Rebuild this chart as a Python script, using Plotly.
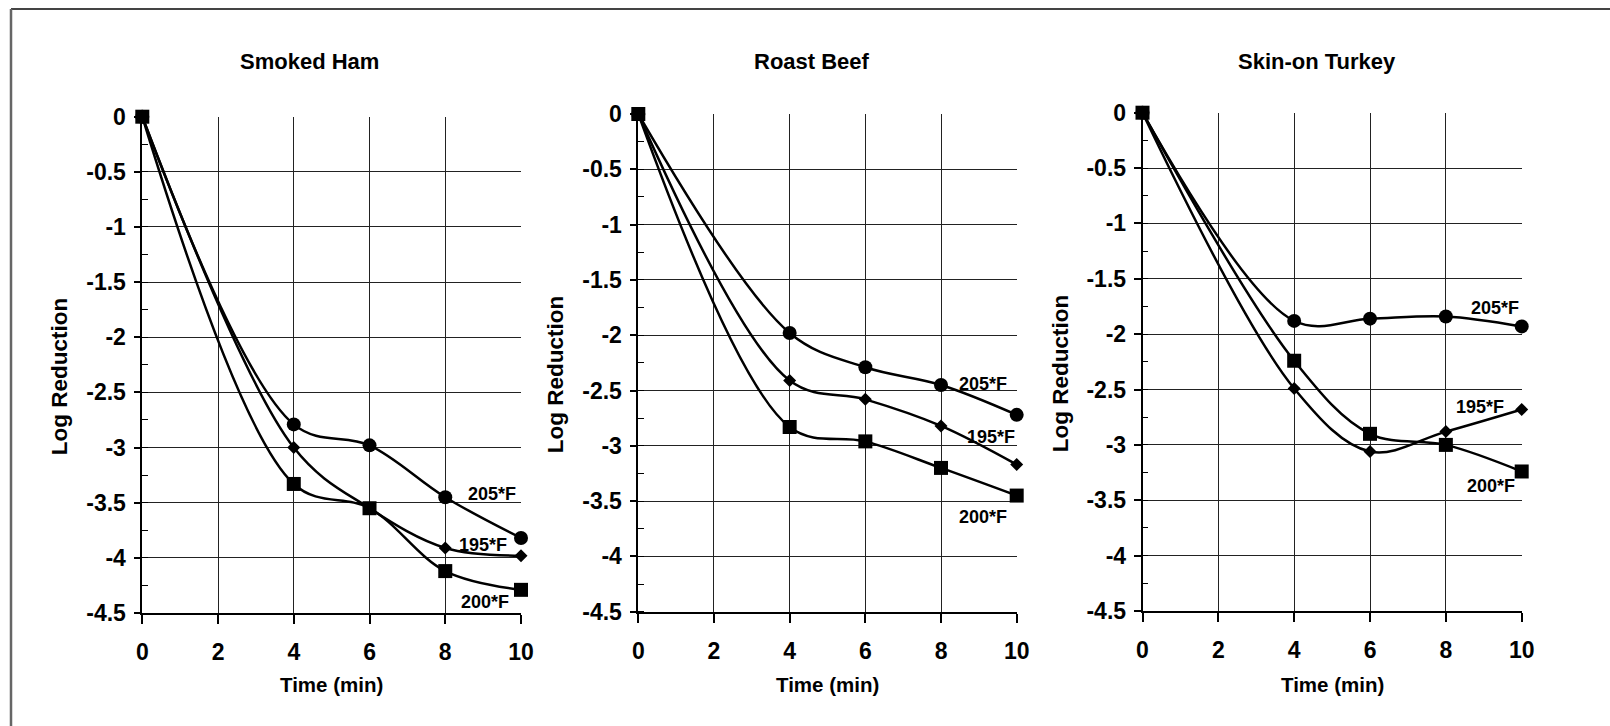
import plotly.graph_objects as go

# Sampling times (min)
time_min = [0, 4, 6, 8, 10]

# Log reduction per product and oven temperature
ham_205 = [0, -2.79, -2.98, -3.45, -3.82]
ham_195 = [0, -3.00, -3.55, -3.91, -3.98]
ham_200 = [0, -3.33, -3.55, -4.12, -4.29]

beef_205 = [0, -1.98, -2.29, -2.45, -2.72]
beef_195 = [0, -2.41, -2.58, -2.82, -3.17]
beef_200 = [0, -2.83, -2.96, -3.20, -3.45]

turkey_205 = [0, -1.88, -1.86, -1.84, -1.93]
turkey_195 = [0, -2.49, -3.06, -2.88, -2.68]
turkey_200 = [0, -2.24, -2.90, -3.00, -3.24]

panel_titles = ["Smoked Ham", "Roast Beef", "Skin-on Turkey"]
series_names = ["205*F", "195*F", "200*F"]

x_tick_vals = [0, 2, 4, 6, 8, 10]
x_tick_text = ["0", "2", "4", "6", "8", "10"]
y_tick_vals = [0, -0.5, -1, -1.5, -2, -2.5, -3, -3.5, -4, -4.5]
y_tick_text = ["0", "-0.5", "-1", "-1.5", "-2", "-2.5", "-3", "-3.5", "-4", "-4.5"]

panels = [
    [ham_205, ham_195, ham_200],
    [beef_205, beef_195, beef_200],
    [turkey_205, turkey_195, turkey_200],
]

# in-plot series label anchors (data coords) for each panel: 205, 195, 200
label_xy = [
    [(9.23, -3.42), (9.0, -3.88), (9.04, -4.40)],
    [(9.1, -2.44), (9.32, -2.92), (9.12, -3.64)],
    [(9.29, -1.76), (8.9, -2.66), (9.19, -3.37)],
]

W, H = 1610, 726


def px(xp):
    return xp / W


def py(yp):
    return 1 - yp / H


# plot areas in pixels: (left, right, top, bottom)
boxes = [
    (142.3, 521.0, 116.7, 613.0),
    (638.3, 1016.7, 114.0, 611.7),
    (1142.5, 1521.7, 112.7, 611.0),
]
title_x = [309, 812, 1317]

FONT = "Arial, 'Liberation Sans', sans-serif"
markers = [
    dict(symbol="circle", size=14),
    dict(symbol="diamond", size=10),
    dict(symbol="square", size=14),
]

fig = go.Figure()
annotations = []

for i, (series, box) in enumerate(zip(panels, boxes)):
    sfx = "" if i == 0 else str(i + 1)
    xa, ya = "x" + sfx, "y" + sfx
    for j, ys in enumerate(series):
        fig.add_trace(go.Scatter(
            x=time_min, y=ys, xaxis=xa, yaxis=ya,
            mode="lines+markers", name=series_names[j],
            line=dict(color="black", width=2.5, shape="spline", smoothing=1.0),
            marker=dict(color="black", **markers[j]),
            cliponaxis=False, showlegend=False,
        ))
        lx, ly = label_xy[i][j]
        annotations.append(dict(
            x=lx, y=ly, xref=xa, yref=ya, text=series_names[j],
            xanchor="center", yanchor="middle", showarrow=False,
            font=dict(family=FONT, size=18, color="black", weight="bold"),
        ))

    l, r, t, b = box
    axis_common = dict(
        automargin=False,
        showgrid=True, gridcolor="#222", gridwidth=1.4,
        showline=True, linecolor="black", linewidth=1.6,
        zeroline=False, mirror=False,
        tickfont=dict(family=FONT, size=23, color="black", weight="bold"),
        ticks="outside", tickcolor="black", tickwidth=1.5,
    )
    fig.update_layout(**{
        ("xaxis" + sfx): dict(
            axis_common, domain=[px(l), px(r)], anchor=ya,
            range=[0, 10], tickvals=x_tick_vals, ticktext=x_tick_text,
            ticklen=9, ticklabelstandoff=9,
        ),
        ("yaxis" + sfx): dict(
            axis_common, domain=[py(b), py(t)], anchor=xa,
            range=[-4.5, 0], tickvals=y_tick_vals, ticktext=y_tick_text,
            ticklen=7, ticklabelstandoff=3,
            minor=dict(ticks="inside", dtick=0.25, tick0=0, ticklen=6,
                       tickcolor="black", tickwidth=1.3, showgrid=False),
        ),
    })

    # panel title
    annotations.append(dict(
        x=px(title_x[i]), y=py(61), xref="paper", yref="paper",
        xanchor="center", yanchor="middle",
        text=panel_titles[i], showarrow=False,
        font=dict(family=FONT, size=22, color="black", weight="bold"),
    ))
    # axis titles
    annotations.append(dict(
        x=px((l + r) / 2), y=py(684), xref="paper", yref="paper",
        xanchor="center", yanchor="middle",
        text="Time (min)", showarrow=False,
        font=dict(family=FONT, size=20.5, color="black", weight="bold"),
    ))
    annotations.append(dict(
        x=px(l - 82), y=py((t + b) / 2 + 12), xref="paper", yref="paper",
        xanchor="center", yanchor="middle",
        text="Log Reduction", showarrow=False, textangle=-90,
        font=dict(family=FONT, size=22.5, color="black", weight="bold"),
    ))

# outer frame (top and left edges)
shapes = [
    dict(type="line", xref="paper", yref="paper", x0=px(11), x1=1, y0=py(9), y1=py(9),
         line=dict(color="#444", width=2)),
    dict(type="line", xref="paper", yref="paper", x0=px(11), x1=px(11), y0=0, y1=py(9),
         line=dict(color="#666", width=2.5)),
]

fig.update_layout(
    width=W, height=H, margin=dict(l=0, r=0, t=0, b=0, autoexpand=False),
    paper_bgcolor="white", plot_bgcolor="white",
    annotations=annotations, shapes=shapes, showlegend=False,
)

fig.write_html("out.html")
